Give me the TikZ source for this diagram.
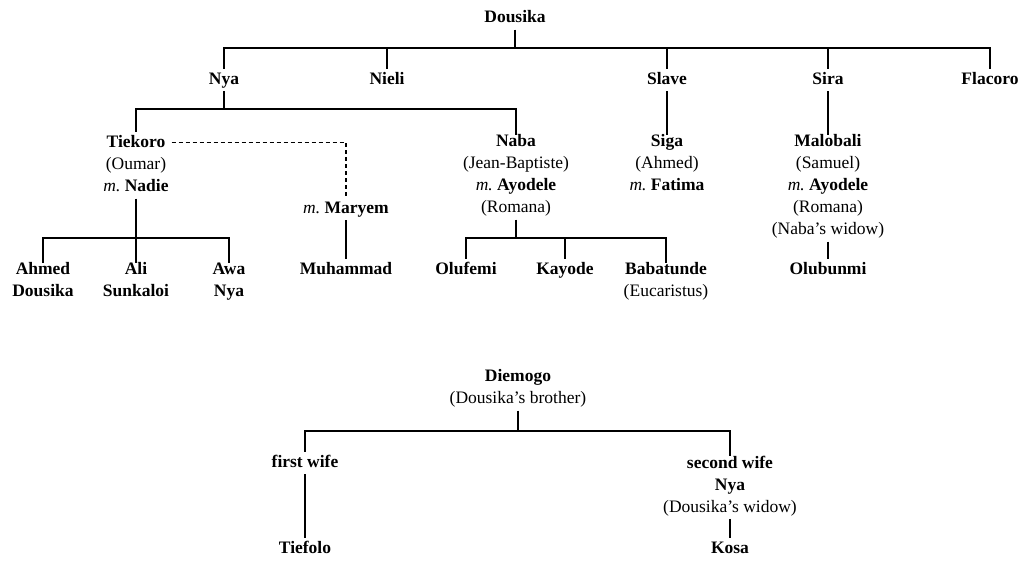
\documentclass[tikz,border=0pt]{standalone}
\usepackage{fontspec}
\setmainfont{Liberation Serif}
\usepackage{tikz}
\newcommand{\mm}{\textit{m.}\ }
\begin{document}
\begin{tikzpicture}[x=1pt,y=-1pt,
  person/.style={anchor=north,inner xsep=0pt,inner ysep=0pt,align=center,
    font=\fontsize{17.5}{22}\selectfont\frenchspacing,
    execute at begin node=\strut,execute at end node=\strut},
  multi/.style={person,yshift=-4pt},
  link/.style={line width=1.2pt},
  dashlink/.style={line width=1.2pt,dash pattern=on 4pt off 3pt}]
\useasboundingbox (0,0) rectangle (1026,562);
% baseline b -> north at b-15.4
\node[person] (dous)  at (515,7.1)  {\textbf{Dousika}};
\node[person] (nya)   at (224,68.6) {\textbf{Nya}};
\node[person] (nieli) at (387,68.6) {\textbf{Nieli}};
\node[person] (slave) at (667,68.6) {\textbf{Slave}};
\node[person] (sira)  at (828,68.6) {\textbf{Sira}};
\node[person] (flac)  at (990,68.6) {\textbf{Flacoro}};
\node[person,inner xsep=6pt] (tiek) at (136,131.6) {\textbf{Tiekoro}};
\node[multi] (tiekb) at (136,153.6) {(Oumar)\\\mm\textbf{Nadie}};
\node[person] (maryem) at (346,197.6) {\mm\textbf{Maryem}};
\node[multi] (naba)  at (516,130.6) {\textbf{Naba}\\(Jean-Baptiste)\\\mm\textbf{Ayodele}\\(Romana)};
\node[multi] (siga)  at (667,130.6) {\textbf{Siga}\\(Ahmed)\\\mm\textbf{Fatima}};
\node[multi] (malo)  at (828,130.6) {\textbf{Malobali}\\(Samuel)\\\mm\textbf{Ayodele}\\(Romana)\\(Naba's widow)};
\node[multi] (ahmed) at (43,258.6)  {\textbf{Ahmed}\\\textbf{Dousika}};
\node[multi] (ali)   at (136,258.6) {\textbf{Ali}\\\textbf{Sunkaloi}};
\node[multi] (awa)   at (229,258.6) {\textbf{Awa}\\\textbf{Nya}};
\node[person] (muh)   at (346,258.6) {\textbf{Muhammad}};
\node[person] (olu)   at (466,258.6) {\textbf{Olufemi}};
\node[person] (kay)   at (565,258.6) {\textbf{Kayode}};
\node[multi] (bab)   at (666,258.6) {\textbf{Babatunde}\\(Eucaristus)};
\node[person] (olub)  at (828,258.6) {\textbf{Olubunmi}};
\node[multi] (diem)  at (518,365.6) {\textbf{Diemogo}\\(Dousika's brother)};
\node[person] (fw)    at (305,451.6) {\textbf{first wife}};
\node[multi] (sw)    at (730,451.6) {\textbf{second wife}\\\textbf{Nya}\\(Dousika's widow)};
\node[person] (tief)  at (305,537.6) {\textbf{Tiefolo}};
\node[person] (kosa)  at (730,537.6) {\textbf{Kosa}};
% bars
\coordinate (b1) at (515,48);
\coordinate (b2) at (224,109);
\coordinate (b3) at (136,238);
\coordinate (b4) at (516,238);
\coordinate (b5) at (518,431);
% Dousika
\draw[link] (dous.south) -- (b1);
\draw[link] (nya.north) |- (b1) -| (flac.north);
\draw[link] (nieli.north) -- (nieli.north |- b1);
\draw[link] (slave.north) -- (slave.north |- b1);
\draw[link] (sira.north) -- (sira.north |- b1);
% Nya
\draw[link] (nya.south) -- (b2);
\draw[link] (tiek.north) |- (b2) -| (naba.north);
% Tiekoro
\draw[link] (tiekb.south) -- (b3);
\draw[link] (ahmed.north) |- (b3) -| (awa.north);
\draw[link] (ali.north) -- (b3);
\draw[dashlink] (tiek.east) -| (maryem.north);
\draw[link] (maryem.south) -- (muh.north);
% Naba
\draw[link] (naba.south) -- (b4);
\draw[link] (olu.north) |- (b4) -| (bab.north);
\draw[link] (kay.north) -- (kay.north |- b4);
% Slave, Sira
\draw[link] (slave.south) -- (siga.north);
\draw[link] (sira.south) -- (malo.north);
\draw[link] (malo.south) -- (olub.north);
% Diemogo
\draw[link] (diem.south) -- (b5);
\draw[link] (fw.north) |- (b5) -| (sw.north);
\draw[link] (fw.south) -- (tief.north);
\draw[link] (sw.south) -- (kosa.north);
\end{tikzpicture}
\end{document}
